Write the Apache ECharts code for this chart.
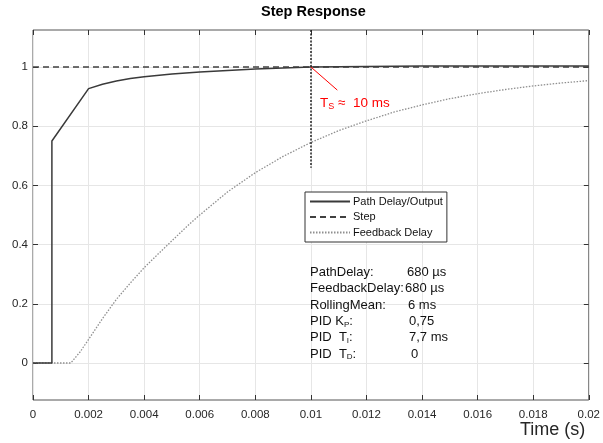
<!DOCTYPE html>
<html><head><meta charset="utf-8">
<script src="https://cdn.jsdelivr.net/npm/echarts@6/dist/echarts.min.js"></script>
<style>html,body{margin:0;padding:0;background:#fff}#c{width:603px;height:443px}</style>
</head><body><div id="c"></div>
<script>
const yTicks = [0, 0.2, 0.4, 0.6, 0.8, 1];
const pathT = [0, 0.00068, 0.00068, 0.002, 0.0025, 0.003, 0.0035, 0.004, 0.005, 0.006, 0.007, 0.008, 0.009, 0.010, 0.012, 0.014, 0.016, 0.018, 0.020];
const pathY = [0, 0, 0.75, 0.927, 0.942, 0.953, 0.961, 0.967, 0.976, 0.983, 0.988, 0.993, 0.997, 1.0, 1.002, 1.003, 1.003, 1.003, 1.003];
const stepT = [0, 0.02];
const stepY = [1, 1];
const fbT = [0, 0.00136, 0.0017, 0.002, 0.0025, 0.003, 0.0035, 0.004, 0.0045, 0.005, 0.0055, 0.006, 0.007, 0.008, 0.009, 0.010, 0.011, 0.012, 0.013, 0.014, 0.015, 0.016, 0.017, 0.018, 0.019, 0.020];
const fbY = [0, 0, 0.038, 0.08, 0.15, 0.215, 0.27, 0.322, 0.368, 0.413, 0.458, 0.5, 0.578, 0.643, 0.698, 0.745, 0.785, 0.818, 0.848, 0.872, 0.893, 0.91, 0.924, 0.936, 0.946, 0.954];
const tsLine = [[0.01, 1.125], [0.01, 0.66]];
const tsPointer = [[0.01, 1.0], [0.01095, 0.922]];
const seriesNames = ['Path Delay/Output', 'Step', 'Feedback Delay'];
const params = [
  ['PathDelay:', '680 µs'],
  ['FeedbackDelay:', '680 µs'],
  ['RollingMean:', '6 ms'],
  ['PID K{s|P}:', '0,75'],
  ['PID  T{s|I}:', '7,7 ms'],
  ['PID  T{s|D}:', '0']
];

const zip = (a, b) => a.map((v, i) => [v, b[i]]);
const fmt = v => String(+v.toFixed(4));
const font = 'Liberation Sans, Arial, sans-serif';
const ink = '#262626';

const chart = echarts.init(document.getElementById('c'), null, {renderer: 'canvas'});
const valueX = [407, 405, 408, 409, 409, 411];
const graphics = [];
params.forEach((p, i) => {
  const y = 273 + i * 16.3;
  graphics.push({type: 'text', z: 100, left: 310, top: y - 7, style: {text: p[0], font: '13px ' + font, fill: '#111',
    rich: {s: {fontSize: 8, padding: [6, 0, 0, 0], fill: '#111'}}}});
  graphics.push({type: 'text', z: 100, left: valueX[i], top: y - 7, style: {text: p[1], font: '13px ' + font, fill: '#111'}});
});
graphics.push({type: 'text', z: 100, left: 320, top: 96, style: {text: 'T{s|S} ≈  10 ms', font: '13.5px ' + font, fill: '#ff0000',
  rich: {s: {fontSize: 9, padding: [7, 0, 0, 0], fill: '#ff0000'}}}});
graphics.push({type: 'text', z: 100, left: 520, top: 421, style: {text: 'Time (s)', font: '18px ' + font, fill: ink}});

const tickCommon = {inside: true, length: 5, lineStyle: {color: '#333'}};
chart.setOption({
  animation: false,
  backgroundColor: '#fff',
  title: {text: 'Step Response', left: 261, top: 4, padding: 0,
    textStyle: {fontFamily: font, fontSize: 14.5, fontWeight: 'bold', color: '#000'}},
  legend: {
    orient: 'vertical', left: 305, top: 192, padding: [4, 4, 4, 4], itemGap: 4.5,
    itemWidth: 40, itemHeight: 12, borderColor: '#333', borderWidth: 1, backgroundColor: '#fff',
    itemStyle: {opacity: 0},
    textStyle: {fontFamily: font, fontSize: 11, color: '#111', padding: [0, 0, 0, -2]},
    data: seriesNames
  },
  grid: {left: 33, right: 13, top: 30, bottom: 43, show: true, borderColor: '#555', borderWidth: 1, backgroundColor: 'transparent'},
  xAxis: [{
    type: 'value', min: 0, max: 0.02, interval: 0.002, position: 'bottom',
    axisLine: {show: false, onZero: false}, axisTick: tickCommon,
    axisLabel: {formatter: fmt, fontFamily: font, fontSize: 11.5, color: ink, margin: 9},
    splitLine: {lineStyle: {color: '#e6e6e6', width: 1}}
  }, {
    type: 'value', min: 0, max: 0.02, interval: 0.002, position: 'top',
    axisLine: {show: false, onZero: false}, axisTick: tickCommon,
    axisLabel: {show: false}, splitLine: {show: false}
  }],
  yAxis: [{
    type: 'value', min: -0.125, max: 1.125, position: 'left',
    axisLine: {show: false, onZero: false},
    axisTick: Object.assign({customValues: yTicks}, tickCommon),
    axisLabel: {customValues: yTicks, formatter: fmt, fontFamily: font, fontSize: 11.5, color: ink, margin: 5},
    splitLine: {show: true, lineStyle: {color: '#e6e6e6', width: 1}}
  }, {
    type: 'value', min: -0.125, max: 1.125, position: 'right',
    axisLine: {show: false, onZero: false},
    axisTick: Object.assign({customValues: yTicks}, tickCommon),
    axisLabel: {show: false, customValues: yTicks}, splitLine: {show: false}
  }],
  graphic: graphics,
  series: [
    {name: seriesNames[2], type: 'line', data: zip(fbT, fbY), symbol: 'none', smooth: false, z: 2,
      lineStyle: {color: '#8f8f8f', width: 1.3, type: [1.5, 1.5]}, itemStyle: {color: '#8f8f8f'}},
    {name: seriesNames[1], type: 'line', data: zip(stepT, stepY), symbol: 'none', z: 3,
      lineStyle: {color: '#404040', width: 1.6, type: [6, 4]}, itemStyle: {color: '#404040'}},
    {name: seriesNames[0], type: 'line', data: zip(pathT, pathY), symbol: 'none', z: 4,
      lineStyle: {color: '#3a3a3a', width: 1.5, type: 'solid'}, itemStyle: {color: '#3a3a3a'},
      markLine: {silent: true, symbol: 'none', animation: false, label: {show: false},
        data: [
          [{coord: tsLine[0], lineStyle: {color: '#222', width: 1.5, type: [2, 1.5]}}, {coord: tsLine[1]}],
          [{coord: tsPointer[0], lineStyle: {color: '#ff0000', width: 1, type: 'solid'}}, {coord: tsPointer[1]}]
        ]}}
  ]
});
</script></body></html>
